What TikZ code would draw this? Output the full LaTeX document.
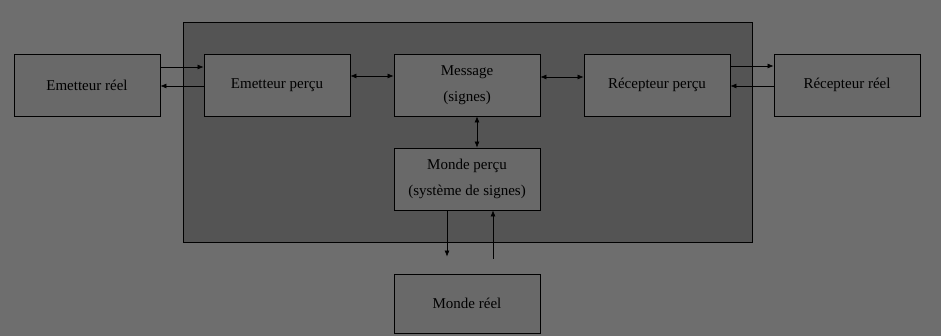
\documentclass[tikz,border=0pt]{standalone}
\usepackage{fontspec}
\setmainfont{Liberation Serif}
\usetikzlibrary{arrows.meta,positioning}
\definecolor{fond}{gray}{0.43}
\definecolor{cadre}{gray}{0.33}
\definecolor{boite}{gray}{0.41}

\begin{document}
\begin{tikzpicture}[x=1pt, y=1pt, >={Latex[length=6pt,width=5pt]},
    bloc/.style={shape=rectangle, draw, line width=0.9pt, fill=boite, text=black,
        minimum width=146pt, minimum height=62pt, inner sep=0pt, align=center,
        font=\fontsize{15}{26}\selectfont},
    fleche/.style={->, line width=0.6pt}]
            \fill[fond] (0,0) rectangle (941,-336);
            \useasboundingbox (0,0) rectangle (941,-336);
            \draw[fill=cadre, line width=0.8pt] (183,-22) rectangle (752,-242);
            \begin{scope} [node distance=190pt]
                \node[bloc] (EmetteurReel) at (87,-85) {Emetteur réel};
                \node[bloc] (EmetteurPercu) [right of=EmetteurReel] {Emetteur perçu};
                \node[bloc] (Message) [right of=EmetteurPercu] {Message\\(signes)};
                \node[bloc] (RecepteurPercu) [right of=Message] {Récepteur perçu};
                \node[bloc] (RecepteurReel) [right of=RecepteurPercu] {Récepteur réel};
            \end{scope}
            \node[bloc] (MondePercu) [below of=Message, node distance=94pt] {Monde perçu\\(système de signes)};
            \node[bloc, minimum height=59pt] (MondeReel) [below of=MondePercu, node distance=124.5pt] {Monde réel};
            \draw[fleche] ([yshift=18pt]EmetteurReel.east) -- ([yshift=18pt]EmetteurPercu.west);
            \draw[fleche] ([yshift=-1pt]EmetteurPercu.west) -- ([yshift=-1pt]EmetteurReel.east);
            \draw[fleche, <->] ([yshift=9pt]EmetteurPercu.east) -- ([yshift=9pt]Message.west);
            \draw[fleche, <->] ([yshift=8pt]Message.east) -- ([yshift=8pt]RecepteurPercu.west);
            \draw[fleche] ([yshift=19pt]RecepteurPercu.east) -- ([yshift=19pt]RecepteurReel.west);
            \draw[fleche] ([yshift=-1pt]RecepteurReel.west) -- ([yshift=-1pt]RecepteurPercu.east);
            \draw[fleche, <->] ([xshift=10pt]Message.south) -- ([xshift=10pt]MondePercu.north);
            \draw[fleche] ([xshift=-20pt]MondePercu.south) -- ([xshift=-20pt, yshift=17pt]MondeReel.north);
            \draw[fleche] ([xshift=26pt, yshift=15pt]MondeReel.north) -- ([xshift=26pt]MondePercu.south);
        \end{tikzpicture}
\end{document}
